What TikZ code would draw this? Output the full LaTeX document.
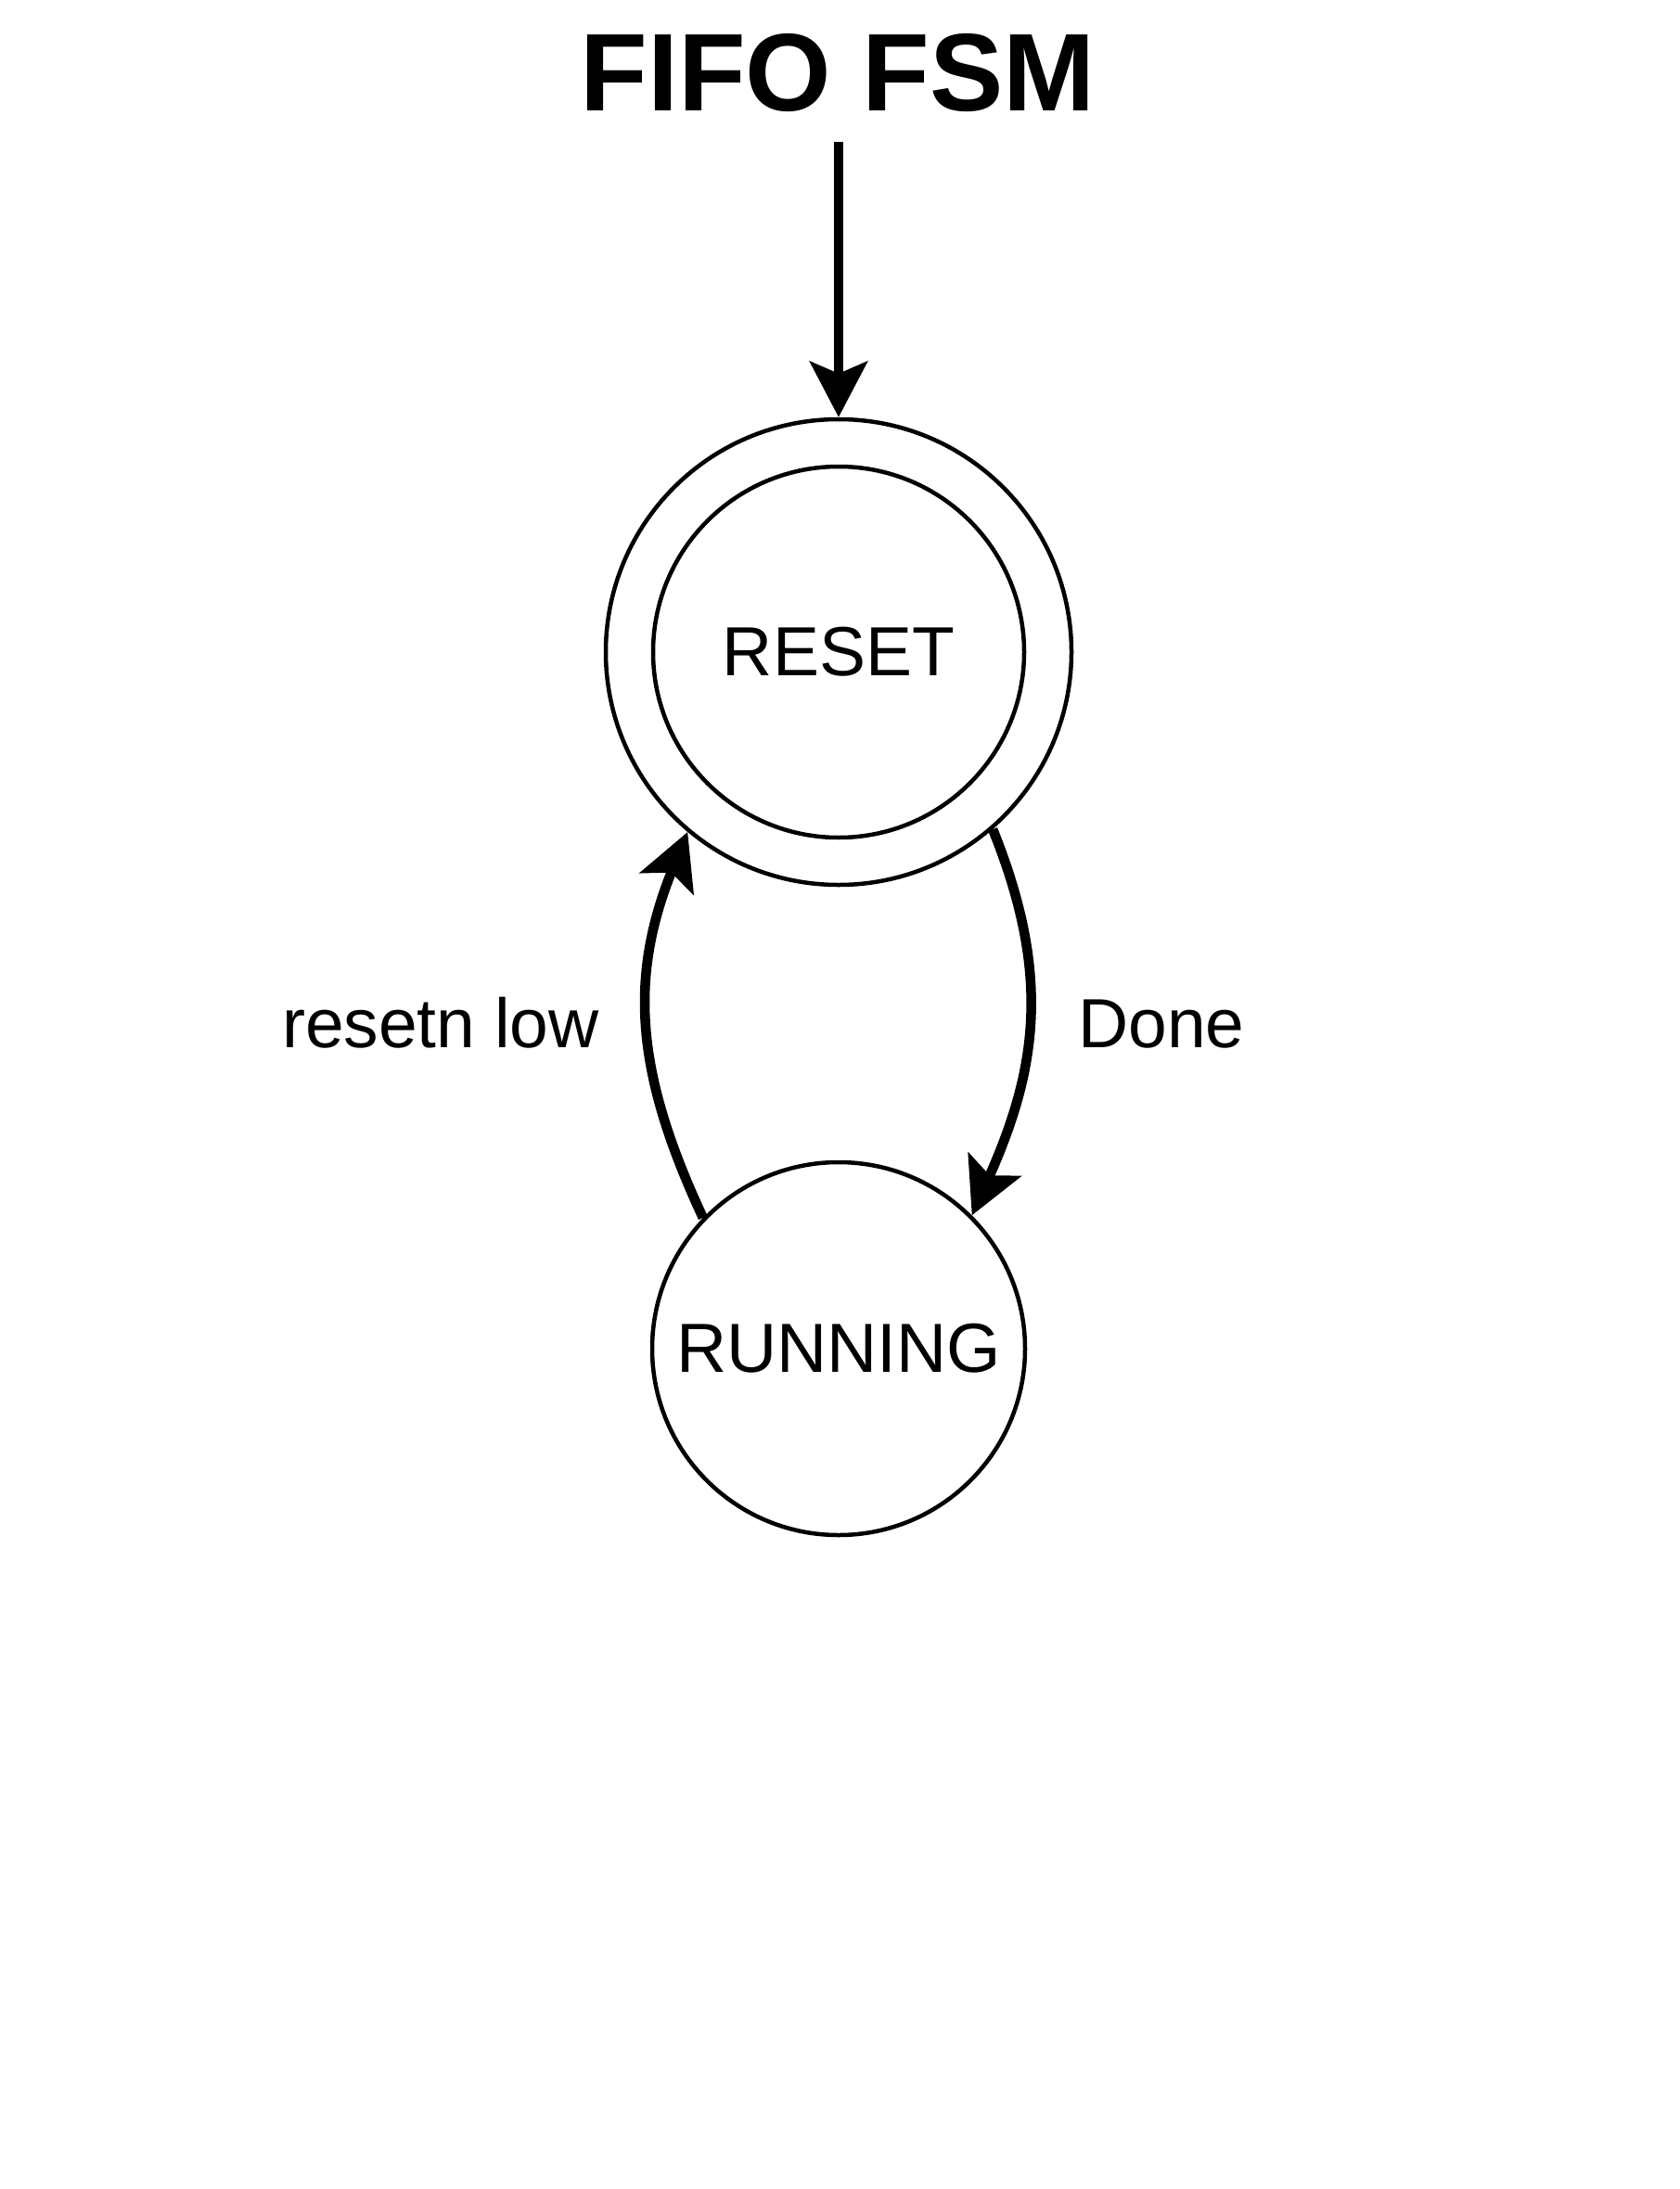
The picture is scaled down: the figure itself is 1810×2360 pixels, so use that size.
\documentclass[tikz,border=0pt]{standalone}
\usepackage{fontspec}
\setmainfont{Liberation Sans}
\usetikzlibrary{arrows.meta}

\begin{document}
\begin{tikzpicture}[x=0.5pt,y=0.5pt,
    state/.style={draw,circle,line width=2.25pt,inner sep=0pt,font=\fontsize{37.5pt}{45pt}\selectfont},
    trans/.style={line width=4.75pt,-{Stealth[length=30pt,width=31pt,inset=6.5pt]}},
    lbl/.style={anchor=base,inner sep=0pt,font=\fontsize{37.5pt}{45pt}\selectfont}]
  \useasboundingbox[fill=white] (0,0) rectangle (1810,-2360);
  \node[anchor=base,inner sep=0pt,font=\fontsize{59.5pt}{71pt}\selectfont\bfseries] (title) at (903,-120) {FIFO FSM};
  \node[state,minimum size=200pt] (reset) at (904,-703) {RESET};
  \node[state,minimum size=251pt] (resetouter) at (reset) {};
  \node[state,minimum size=201pt] (running) at (904,-1454) {RUNNING};
  \coordinate (entry) at (904,-153);
  \draw[trans] (entry) -- (resetouter.north);
  % transitions
  \draw[trans,line width=5.25pt] (resetouter.-49.4) to[out=-68,in=66,looseness=1.05] (running.45.6);
  \draw[trans,line width=5.25pt] (running.136) to[out=115,in=248,looseness=1.05] (resetouter.230.3);
  \node[lbl] (resetlbl) at (475,-1129) {resetn low};
  \node[lbl] (donelbl) at (1252,-1129) {Done};
\end{tikzpicture}
\end{document}
